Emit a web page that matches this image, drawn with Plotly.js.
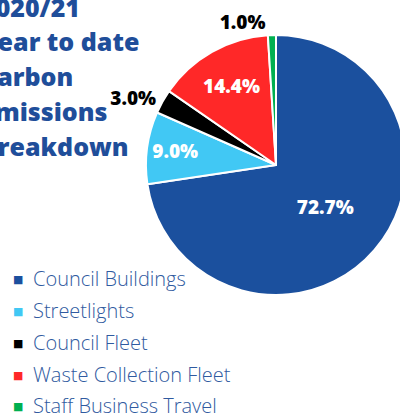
<!DOCTYPE html>
<html><head><meta charset="utf-8">
<script src="https://cdn.plot.ly/plotly-3.0.1.min.js"></script>
<style>html,body{margin:0;padding:0;overflow:hidden;width:400px;height:414px;background:#fff}
#chart{position:absolute;left:-21px;top:0;width:461px;height:414px}</style>
</head><body><div id="chart"></div>
<script>
const categories = ['Council Buildings','Streetlights','Council Fleet','Waste Collection Fleet','Staff Business Travel'];
const shares = [72.7, 9.0, 3.0, 14.4, 1.0];
const colors = ['#1B509E','#41C8F4','#000000','#FF2828','#00B050'];
const labelPositions = ['inside','inside','outside','inside','outside'];
const labelColors = ['#ffffff','#ffffff','#000000','#ffffff','#000000'];
const titleLines = ['2020/21','Year to date','Carbon','Emissions','Breakdown'];

const W = 461, H = 414, OFF = 21;
const cx = 276 + OFF, cy = 165, r = 130;

const trace = {
  type:'pie', labels:categories, values:shares, sort:false, direction:'clockwise', rotation:0,
  marker:{colors:colors, line:{color:'#ffffff', width:2}},
  texttemplate:'%{value:.1f}%', textposition:labelPositions,
  insidetextorientation:'horizontal',
  textfont:{family:'Open Sans, sans-serif', size:19, color:labelColors, weight:800},
  hoverinfo:'none', showlegend:false,
  domain:{x:[(cx-r)/W,(cx+r)/W], y:[(H-cy-r)/H,(H-cy+r)/H]}
};

const annotations = [];
const titleY = [7, 41, 76, 111, 146];
titleLines.forEach((t,i)=>annotations.push({
  text:t, xref:'paper', yref:'paper', x:0, y:1-titleY[i]/H,
  xanchor:'left', yanchor:'middle', showarrow:false,
  font:{family:'Open Sans, sans-serif', size:25, color:'#1F4E9A', weight:800}
}));
const legY = [278, 310, 342, 374, 405];
categories.forEach((c,i)=>{
  annotations.push({text:'■', xref:'paper', yref:'paper', x:(18+OFF)/W, y:1-(legY[i]+1)/H,
    xanchor:'center', yanchor:'middle', showarrow:false,
    font:{family:'DejaVu Sans', size:11, color:colors[i]}});
  annotations.push({text:c, xref:'paper', yref:'paper', x:(31+OFF)/W, y:1-legY[i]/H,
    xanchor:'left', yanchor:'middle', showarrow:false,
    font:{family:'Open Sans, sans-serif', size:20, color:'#2F5AA0', weight:300}});
});

Plotly.newPlot('chart',[trace],{
  width:W, height:H, margin:{l:0,r:0,t:0,b:0},
  paper_bgcolor:'#ffffff', showlegend:false, annotations:annotations
},{staticPlot:true, displayModeBar:false});
</script></body></html>
